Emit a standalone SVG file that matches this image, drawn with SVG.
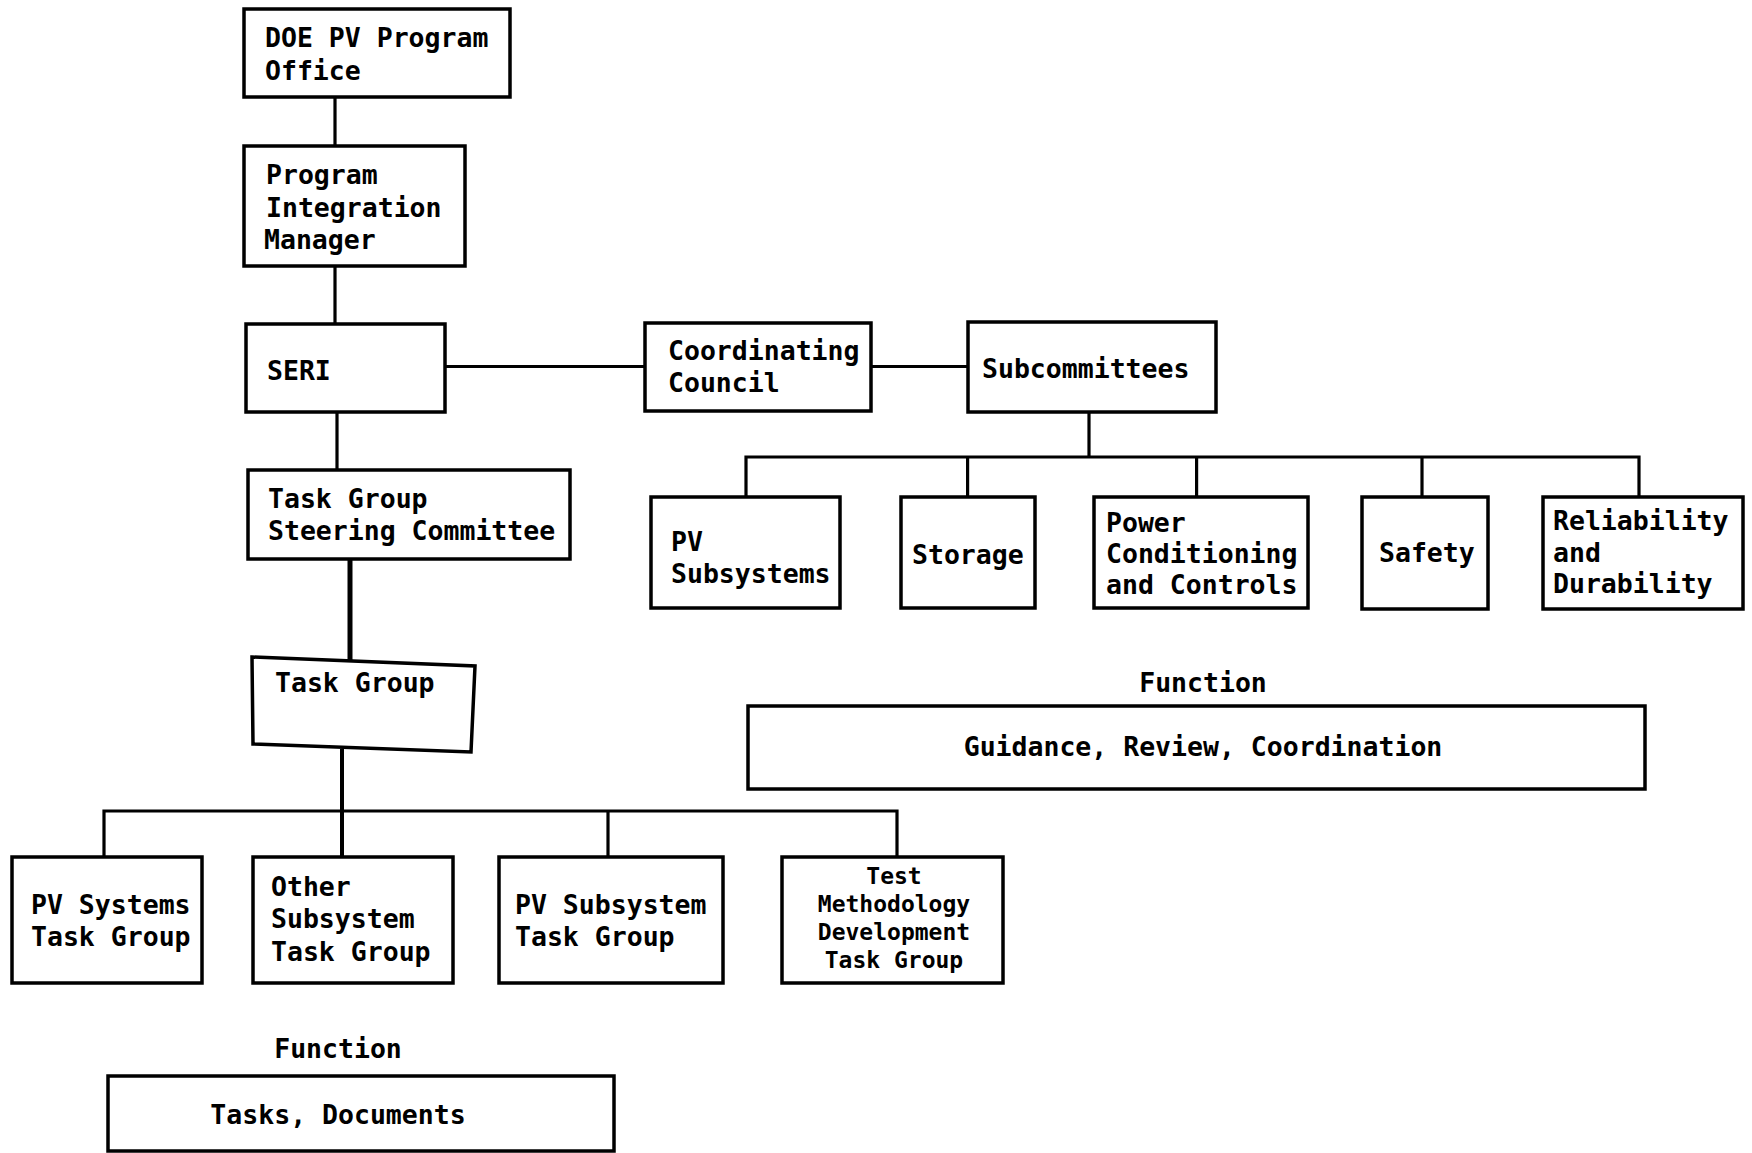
<svg xmlns="http://www.w3.org/2000/svg" width="1752" height="1153" viewBox="0 0 1752 1153">
<style>
.b{fill:none;stroke:#000;stroke-width:3.5;stroke-linejoin:miter}
.c{fill:none;stroke:#000;stroke-width:3.2}
text{font-family:"DejaVu Sans Mono","Liberation Mono",monospace;font-weight:bold;font-size:26.5px;fill:#000}
.m{text-anchor:middle}
.s{font-size:23px}
</style>
<rect width="1752" height="1153" fill="#fff"/>
<g id="connectors">
<line class="c" x1="335" y1="97" x2="335" y2="146"/>
<line class="c" x1="335" y1="266" x2="335" y2="324"/>
<line class="c" x1="337" y1="412" x2="337" y2="470"/>
<line class="c" x1="350" y1="559" x2="350" y2="660" style="stroke-width:5"/>
<line class="c" x1="445" y1="366.5" x2="645" y2="366.5"/>
<line class="c" x1="871" y1="366.5" x2="968" y2="366.5"/>
<line class="c" x1="1089" y1="412" x2="1089" y2="457"/>
<polyline class="c" points="746,497 746,457 1639,457 1639,497"/>
<line class="c" x1="967.6" y1="457" x2="967.6" y2="497"/>
<line class="c" x1="1196.6" y1="457" x2="1196.6" y2="497"/>
<line class="c" x1="1422" y1="457" x2="1422" y2="497"/>
<line class="c" x1="342" y1="749" x2="342" y2="857" style="stroke-width:4"/>
<polyline class="c" points="104,857 104,811 897,811 897,857"/>
<line class="c" x1="608" y1="811" x2="608" y2="857"/>
</g>
<g id="doe"><rect class="b" x="244" y="9" width="266" height="88"/><text x="265" y="47">DOE PV Program</text><text x="265" y="80">Office</text></g>
<g id="pim"><rect class="b" x="244" y="146" width="221" height="120"/><text x="266" y="184">Program</text><text x="266" y="217">Integration</text><text x="264" y="249">Manager</text></g>
<g id="seri"><rect class="b" x="246" y="324" width="199" height="88"/><text x="267" y="380">SERI</text></g>
<g id="council"><rect class="b" x="645" y="323" width="226" height="88"/><text x="668" y="360">Coordinating</text><text x="668" y="392">Council</text></g>
<g id="subcommittees"><rect class="b" x="968" y="322" width="248" height="90"/><text x="982" y="378">Subcommittees</text></g>
<g id="steering"><rect class="b" x="248" y="470" width="322" height="89"/><text x="268" y="508">Task Group</text><text x="268" y="540">Steering Committee</text></g>
<g id="taskgroup"><polygon class="b" points="252,657 475,666 471,752 253,744"/><text x="275" y="692">Task Group</text></g>
<g id="pvsub"><rect class="b" x="651" y="497" width="189" height="111"/><text x="671" y="551">PV</text><text x="671" y="583">Subsystems</text></g>
<g id="storage"><rect class="b" x="901" y="497" width="134" height="111"/><text x="912" y="564">Storage</text></g>
<g id="power"><rect class="b" x="1094" y="497" width="214" height="111"/><text x="1106" y="532">Power</text><text x="1106" y="563">Conditioning</text><text x="1106" y="594">and Controls</text></g>
<g id="safety"><rect class="b" x="1362" y="497" width="126" height="112"/><text x="1379" y="562">Safety</text></g>
<g id="reliability"><rect class="b" x="1543" y="497" width="200" height="112"/><text x="1553" y="530">Reliability</text><text x="1553" y="562">and</text><text x="1553" y="593">Durability</text></g>
<g id="function-right"><text class="m" x="1203" y="692">Function</text><rect class="b" x="748" y="706" width="897" height="83"/><text class="m" x="1203" y="756">Guidance, Review, Coordination</text></g>
<g id="pvsystems-tg"><rect class="b" x="12" y="857" width="190" height="126"/><text x="31" y="914">PV Systems</text><text x="31" y="946">Task Group</text></g>
<g id="other-tg"><rect class="b" x="253" y="857" width="200" height="126"/><text x="271" y="896">Other</text><text x="271" y="928">Subsystem</text><text x="271" y="961">Task Group</text></g>
<g id="pvsubsystem-tg"><rect class="b" x="499" y="857" width="224" height="126"/><text x="515" y="914">PV Subsystem</text><text x="515" y="946">Task Group</text></g>
<g id="testmethod-tg"><rect class="b" x="782" y="857" width="221" height="126"/><text class="m s" x="894" y="884">Test</text><text class="m s" x="894" y="912">Methodology</text><text class="m s" x="894" y="940">Development</text><text class="m s" x="894" y="968">Task Group</text></g>
<g id="function-left"><text class="m" x="338" y="1058">Function</text><rect class="b" x="108" y="1076" width="506" height="75"/><text class="m" x="338" y="1124">Tasks, Documents</text></g>
</svg>
